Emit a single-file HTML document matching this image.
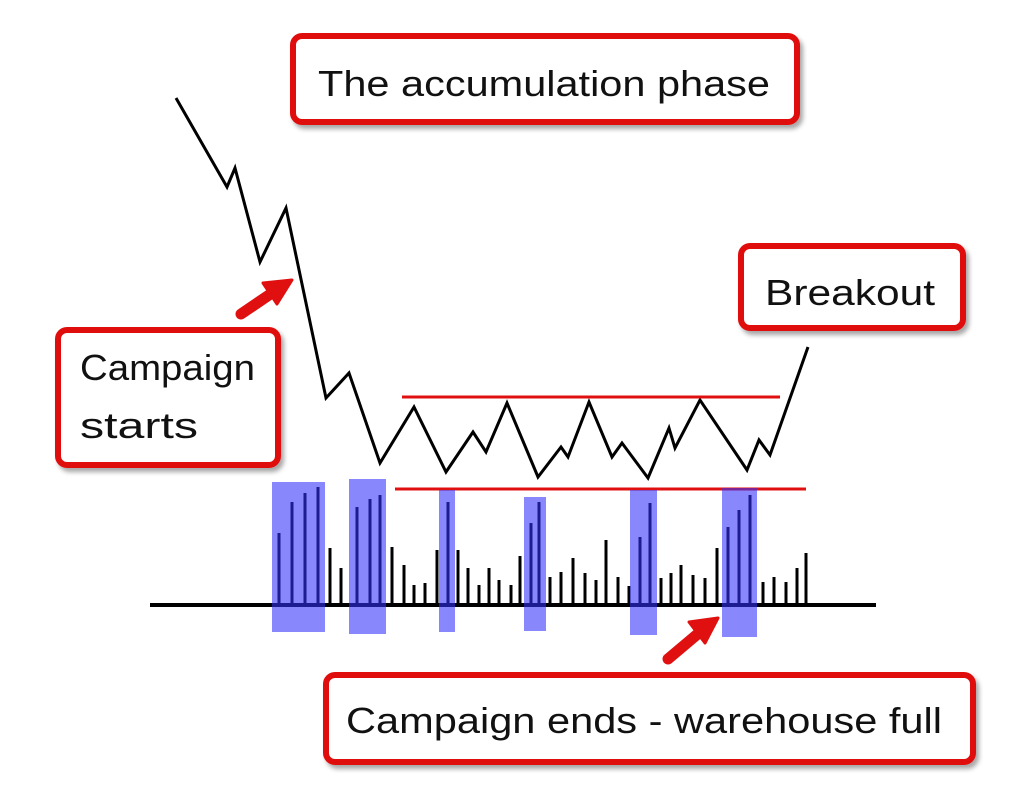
<!DOCTYPE html>
<html><head><meta charset="utf-8"><style>
html,body{margin:0;padding:0;background:#fff;}
svg{display:block;}
text{font-family:"Liberation Sans",sans-serif;font-size:36px;fill:#111;}
</style></head><body>
<svg width="1023" height="787" viewBox="0 0 1023 787" xmlns="http://www.w3.org/2000/svg">
<defs>
<filter id="sh" x="-10%" y="-10%" width="120%" height="130%"><feDropShadow dx="3" dy="4" stdDeviation="2.5" flood-color="#000" flood-opacity="0.35"/></filter>
</defs>
<!-- boxes -->
<g fill="#fff" stroke="#e01010" stroke-width="6" filter="url(#sh)">
<rect x="293" y="36" width="504" height="86" rx="9"/>
<rect x="741" y="246" width="222" height="82" rx="9"/>
<rect x="58" y="330" width="220" height="135" rx="9"/>
<rect x="326" y="675" width="647" height="87" rx="9"/>
</g>
<text x="318" y="96" textLength="452" lengthAdjust="spacingAndGlyphs">The accumulation phase</text>
<text x="765" y="305" textLength="170" lengthAdjust="spacingAndGlyphs">Breakout</text>
<text x="80" y="380" textLength="175" lengthAdjust="spacingAndGlyphs">Campaign</text>
<text x="80" y="438" textLength="118" lengthAdjust="spacingAndGlyphs">starts</text>
<text x="346" y="733" textLength="596" lengthAdjust="spacingAndGlyphs">Campaign ends - warehouse full</text>
<!-- price line -->
<polyline fill="none" stroke="#000" stroke-width="3" stroke-linejoin="miter" points="176,98 227,187 235,168 260,262 286,208 326,398 349,373 380,463 414,407 446,472 473,432 486,452 507,403 538,477 561,447 568,457 589,402 612,457 622,443 648,478 669,428 675,448 700,400 747,470 759,440 770,455 808,347"/>
<!-- red lines -->
<line x1="402" y1="397" x2="780" y2="397" stroke="#e01010" stroke-width="3"/>
<line x1="395" y1="489" x2="806" y2="489" stroke="#e01010" stroke-width="3"/>
<!-- volume bars -->
<g stroke="#000" stroke-width="3">
<line x1="279" y1="605" x2="279" y2="533"/><line x1="292" y1="605" x2="292" y2="502"/><line x1="305" y1="605" x2="305" y2="493"/><line x1="318" y1="605" x2="318" y2="487"/>
<line x1="330" y1="605" x2="330" y2="548"/><line x1="341" y1="605" x2="341" y2="568"/><line x1="357" y1="605" x2="357" y2="507"/><line x1="370" y1="605" x2="370" y2="499"/>
<line x1="380" y1="605" x2="380" y2="495"/><line x1="392" y1="605" x2="392" y2="547"/><line x1="404" y1="605" x2="404" y2="565"/><line x1="414" y1="605" x2="414" y2="585"/>
<line x1="425" y1="605" x2="425" y2="583"/><line x1="437" y1="605" x2="437" y2="550"/><line x1="448" y1="605" x2="448" y2="502"/><line x1="458" y1="605" x2="458" y2="550"/>
<line x1="468" y1="605" x2="468" y2="568"/><line x1="479" y1="605" x2="479" y2="585"/><line x1="489" y1="605" x2="489" y2="568"/><line x1="499" y1="605" x2="499" y2="580"/>
<line x1="511" y1="605" x2="511" y2="585"/><line x1="520" y1="605" x2="520" y2="556"/><line x1="531" y1="605" x2="531" y2="523"/><line x1="539" y1="605" x2="539" y2="502"/>
<line x1="550" y1="605" x2="550" y2="577"/><line x1="561" y1="605" x2="561" y2="572"/><line x1="573" y1="605" x2="573" y2="558"/><line x1="585" y1="605" x2="585" y2="573"/>
<line x1="596" y1="605" x2="596" y2="580"/><line x1="606" y1="605" x2="606" y2="540"/><line x1="618" y1="605" x2="618" y2="577"/><line x1="629" y1="605" x2="629" y2="586"/>
<line x1="640" y1="605" x2="640" y2="537"/><line x1="650" y1="605" x2="650" y2="503"/><line x1="661" y1="605" x2="661" y2="578"/><line x1="671" y1="605" x2="671" y2="573"/>
<line x1="681" y1="605" x2="681" y2="565"/><line x1="693" y1="605" x2="693" y2="575"/><line x1="705" y1="605" x2="705" y2="578"/><line x1="717" y1="605" x2="717" y2="548"/>
<line x1="728" y1="605" x2="728" y2="527"/><line x1="739" y1="605" x2="739" y2="510"/><line x1="750" y1="605" x2="750" y2="495"/><line x1="763" y1="605" x2="763" y2="582"/>
<line x1="774" y1="605" x2="774" y2="577"/><line x1="786" y1="605" x2="786" y2="582"/><line x1="797" y1="605" x2="797" y2="568"/><line x1="806" y1="605" x2="806" y2="553"/>
</g>
<line x1="150" y1="605" x2="876" y2="605" stroke="#000" stroke-width="4"/>
<!-- blue highlight boxes -->
<g fill="rgb(50,50,250)" fill-opacity="0.58">
<rect x="272" y="482" width="53" height="150"/>
<rect x="349" y="479" width="37" height="155"/>
<rect x="439" y="490" width="16" height="142"/>
<rect x="524" y="497" width="22" height="134"/>
<rect x="630" y="490" width="27" height="145"/>
<rect x="722" y="488" width="35" height="149"/>
</g>
<!-- arrows -->
<g fill="#e01010" stroke="#e01010" stroke-linejoin="round">
<line x1="241" y1="314" x2="272" y2="293" stroke-width="11" stroke-linecap="round"/>
<polygon points="292,280 263,283 277,304" stroke-width="3"/>
<line x1="668" y1="659" x2="700" y2="632" stroke-width="11" stroke-linecap="round"/>
<polygon points="718,618 689,622 705,643" stroke-width="3"/>
</g>
</svg>
</body></html>
